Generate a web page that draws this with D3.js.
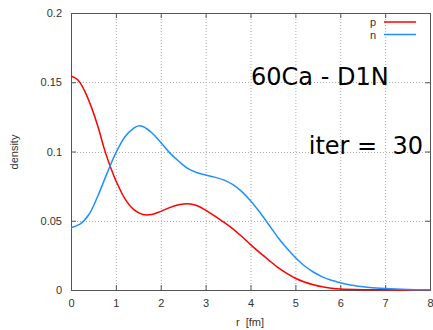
<!DOCTYPE html>
<html><head><meta charset="utf-8">
<script src="https://cdn.jsdelivr.net/npm/d3@7"></script>
<style>body{margin:0;background:#fff}svg{display:block}</style>
</head><body>
<svg id="c" width="433" height="330"></svg>
<script>
const rP = [0,0.15,0.3,0.45,0.6,0.75,0.9,1.0,1.2,1.4,1.6,1.8,2.0,2.2,2.4,2.6,2.8,3.0,3.2,3.4,3.6,3.8,4.0,4.2,4.4,4.6,4.8,5.0,5.2,5.4,5.6,5.8,6.0,6.5,7.0,7.5,8.0];
const pDens = [0.1545,0.1518,0.144,0.1324,0.118,0.101,0.087,0.079,0.066,0.058,0.0545,0.0545,0.0568,0.0595,0.0615,0.0623,0.061,0.0577,0.0535,0.049,0.0443,0.0388,0.0328,0.0272,0.0218,0.0165,0.0122,0.0085,0.0058,0.0038,0.0023,0.0013,0.0007,0.0002,0.0001,0.00005,0.0];
const rN = [0,0.2,0.4,0.6,0.8,1.0,1.2,1.4,1.5,1.6,1.8,2.0,2.2,2.4,2.6,2.8,3.0,3.2,3.4,3.6,3.8,4.0,4.2,4.4,4.6,4.8,5.0,5.2,5.4,5.6,5.8,6.0,6.2,6.4,6.6,6.8,7.0,7.5,8.0];
const nDens = [0.045,0.0475,0.0545,0.068,0.084,0.099,0.1105,0.1168,0.1185,0.118,0.1135,0.1065,0.099,0.093,0.0878,0.0848,0.083,0.0815,0.0795,0.0762,0.0712,0.0645,0.0565,0.0475,0.0385,0.0305,0.0235,0.0175,0.013,0.0095,0.007,0.0053,0.0038,0.0027,0.002,0.0014,0.001,0.0004,0.0001];
const xTicks = [0,1,2,3,4,5,6,7,8];
const yTicks = [0,0.05,0.1,0.15,0.2];
const yTickLabels = ["0","0.05","0.1","0.15","0.2"];
const seriesNames = ["p","n"];
const seriesColors = ["#ff0000","#1e90ff"];
const title1 = "60Ca - D1N";
const title2 = "iter =  30";

const L=71,R=430,T=13,B=290;
const svg=d3.select("#c");
const x=d3.scaleLinear().domain([0,8]).range([L,R]);
const y=d3.scaleLinear().domain([0,0.2]).range([B,T]);
const font="'Liberation Sans', Arial, sans-serif";
const axisCol="#555";

// grid
const g=svg.append("g");
g.selectAll("line.gx").data(xTicks.slice(1,-1)).join("line")
 .attr("x1",d=>x(d)+0.5).attr("x2",d=>x(d)+0.5).attr("y1",T).attr("y2",B)
 .attr("stroke","#aaa").attr("stroke-width",1).attr("stroke-dasharray","1,2");
g.selectAll("line.gy").data(yTicks.slice(1,-1)).join("line")
 .attr("y1",d=>Math.round(y(d))+0.5).attr("y2",d=>Math.round(y(d))+0.5).attr("x1",L).attr("x2",R)
 .attr("stroke","#aaa").attr("stroke-width",1).attr("stroke-dasharray","1,2");

// axes
const xb=svg.append("g").attr("transform",`translate(0,${B})`)
 .call(d3.axisBottom(x).tickValues(xTicks).tickFormat(d3.format("d")).tickSize(-5).tickPadding(9));
const xt=svg.append("g").attr("transform",`translate(0,${T})`)
 .call(d3.axisTop(x).tickValues(xTicks).tickFormat("").tickSize(-5));
const yl=svg.append("g").attr("transform",`translate(${L},0)`)
 .call(d3.axisLeft(y).tickValues(yTicks).tickFormat((d,i)=>yTickLabels[i]).tickSize(-5).tickPadding(9));
const yr=svg.append("g").attr("transform",`translate(${R},0)`)
 .call(d3.axisRight(y).tickValues(yTicks).tickFormat("").tickSize(-5));
[xb,xt,yl,yr].forEach(a=>{
  a.selectAll("path").attr("stroke",axisCol).attr("stroke-width",1);
  a.selectAll("line").attr("stroke",axisCol);
  a.selectAll("text").attr("fill","#333").style("font-family",font).style("font-size","11px");
});

// lines
const line=d3.line().x(d=>x(d[0])).y(d=>Math.min(y(d[1]),B)).curve(d3.curveCatmullRom.alpha(0.5));
const data=[d3.zip(rP,pDens), d3.zip(rN,nDens)];
data.forEach((dd,i)=>{
  svg.append("path").datum(dd).attr("d",line).attr("fill","none")
   .attr("stroke",seriesColors[i]).attr("stroke-width",1.5);
});

// legend
seriesNames.forEach((nm,i)=>{
  const ly=22+i*12.5;
  svg.append("text").attr("x",376).attr("y",ly+4).attr("text-anchor","end")
   .style("font-family",font).style("font-size","11px").attr("fill","#333").text(nm);
  svg.append("line").attr("x1",384).attr("x2",416).attr("y1",ly).attr("y2",ly)
   .attr("stroke",seriesColors[i]).attr("stroke-width",1.5);
});

// titles
svg.append("text").attr("x",251).attr("y",85).style("font-family","'DejaVu Sans', sans-serif")
 .style("font-size","24px").attr("fill","#000").text(title1);
svg.append("text").attr("x",423).attr("y",154).attr("text-anchor","end").style("font-family","'DejaVu Sans', sans-serif")
 .style("font-size","24px").attr("fill","#000").style("white-space","pre").text(title2);

// axis labels
svg.append("text").attr("transform","translate(18,152) rotate(-90)").attr("text-anchor","middle")
 .style("font-family",font).style("font-size","11px").attr("fill","#333").text("density");
svg.append("text").attr("x",250).attr("y",326).attr("text-anchor","middle").style("white-space","pre")
 .style("font-family",font).style("font-size","11px").attr("fill","#333").text("r  [fm]");
</script>
</body></html>
